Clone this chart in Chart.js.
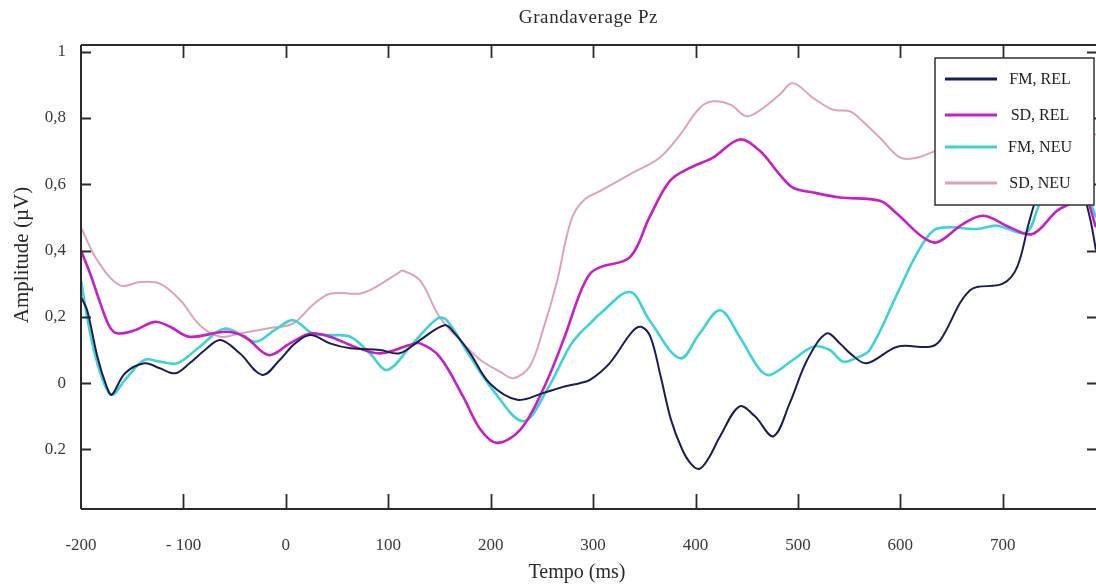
<!DOCTYPE html>
<html>
<head>
<meta charset="utf-8">
<script src="https://cdn.jsdelivr.net/npm/chart.js@4.4.1/dist/chart.umd.min.js"></script>
<style>
  html, body { margin: 0; padding: 0; background: #ffffff; }
  #wrap { position: relative; width: 1096px; height: 585px; }
</style>
</head>
<body>
<div id="wrap"><canvas id="c"></canvas></div>
<script>
// ---------- DATA ----------
const chartTitle = 'Grandaverage Pz';
const xTitle = 'Tempo (ms)';
const yTitle = 'Amplitude (\u00b5V)';

const xTickValues = [-200, -100, 0, 100, 200, 300, 400, 500, 600, 700];
const xTickLabels = ['-200', '- 100', '0', '100', '200', '300', '400', '500', '600', '700'];
const yTickValues = [-0.2, 0, 0.2, 0.4, 0.6, 0.8, 1];
const yTickLabels = ['0.2', '0', '0,2', '0,4', '0,6', '0,8', '1'];

const seriesNames = ['FM, REL', 'SD, REL', 'FM, NEU', 'SD, NEU'];

// FM, REL
const fmRelTime = [-200, -194, -184, -175, -170, -157, -138, -123, -108, -94, -79, -64, -45, -23, -6, 9, 24, 43, 63, 92, 111, 131, 155, 165, 180, 199, 226, 251, 272, 287, 297, 316, 338, 347, 356, 366, 376, 387, 396, 404, 413, 424, 443, 458, 476, 492, 509, 528, 541, 551, 567, 597, 629, 639, 668, 700, 714, 726, 736, 751, 765, 777, 785, 791];
const fmRelVal  = [0.26, 0.22, 0.08, -0.01, -0.035, 0.03, 0.06, 0.045, 0.03, 0.06, 0.10, 0.13, 0.09, 0.025, 0.07, 0.12, 0.145, 0.12, 0.105, 0.10, 0.09, 0.13, 0.175, 0.15, 0.09, 0.0, -0.05, -0.03, -0.01, 0.0, 0.01, 0.06, 0.155, 0.17, 0.14, 0.02, -0.11, -0.20, -0.245, -0.258, -0.225, -0.16, -0.07, -0.10, -0.16, -0.06, 0.07, 0.15, 0.12, 0.09, 0.06, 0.11, 0.11, 0.13, 0.28, 0.30, 0.35, 0.49, 0.58, 0.63, 0.62, 0.58, 0.50, 0.40];

// SD, REL
const sdRelTime = [-200, -191, -181, -172, -164, -147, -128, -113, -94, -59, -40, -17, 4, 24, 43, 67, 92, 121, 131, 150, 173, 190, 206, 229, 251, 271, 287, 297, 307, 336, 355, 375, 395, 417, 443, 463, 482, 495, 515, 541, 580, 597, 622, 636, 661, 681, 707, 729, 753, 765, 780, 791];
const sdRelVal  = [0.40, 0.33, 0.24, 0.17, 0.15, 0.16, 0.185, 0.17, 0.14, 0.155, 0.14, 0.085, 0.12, 0.15, 0.14, 0.11, 0.09, 0.115, 0.12, 0.08, -0.04, -0.14, -0.18, -0.14, -0.02, 0.13, 0.27, 0.33, 0.35, 0.38, 0.50, 0.61, 0.65, 0.68, 0.735, 0.70, 0.63, 0.59, 0.575, 0.56, 0.55, 0.51, 0.44, 0.425, 0.48, 0.505, 0.47, 0.45, 0.52, 0.54, 0.56, 0.47];

// FM, NEU
const fmNeuTime = [-200, -191, -181, -170, -157, -138, -123, -106, -84, -59, -30, -11, 7, 26, 43, 63, 82, 99, 124, 148, 157, 180, 202, 232, 255, 277, 287, 297, 307, 336, 355, 385, 404, 424, 443, 463, 473, 495, 515, 531, 544, 556, 570, 597, 616, 632, 648, 675, 694, 723, 736, 751, 770, 783, 791];
const fmNeuVal  = [0.31, 0.15, 0.03, -0.035, 0.01, 0.07, 0.065, 0.06, 0.11, 0.165, 0.125, 0.16, 0.19, 0.15, 0.145, 0.14, 0.09, 0.04, 0.12, 0.195, 0.19, 0.08, -0.02, -0.115, -0.02, 0.11, 0.15, 0.18, 0.21, 0.275, 0.19, 0.075, 0.15, 0.22, 0.14, 0.04, 0.025, 0.07, 0.11, 0.10, 0.065, 0.075, 0.10, 0.27, 0.39, 0.46, 0.47, 0.465, 0.475, 0.455, 0.54, 0.60, 0.60, 0.56, 0.50];

// SD, NEU
const sdNeuTime = [-200, -184, -162, -142, -123, -103, -84, -64, -45, -18, 7, 26, 43, 72, 85, 111, 114, 131, 150, 173, 190, 209, 222, 238, 251, 265, 274, 281, 292, 307, 336, 365, 385, 404, 417, 434, 450, 466, 482, 495, 515, 534, 551, 563, 580, 600, 616, 634, 660, 700, 750, 791];
const sdNeuVal  = [0.47, 0.37, 0.295, 0.305, 0.30, 0.25, 0.175, 0.14, 0.15, 0.165, 0.18, 0.235, 0.27, 0.27, 0.285, 0.335, 0.34, 0.31, 0.20, 0.12, 0.07, 0.035, 0.015, 0.05, 0.16, 0.31, 0.44, 0.51, 0.555, 0.58, 0.63, 0.68, 0.75, 0.83, 0.85, 0.84, 0.805, 0.83, 0.87, 0.905, 0.86, 0.825, 0.82, 0.79, 0.74, 0.68, 0.68, 0.70, 0.72, 0.74, 0.76, 0.75];

const seriesColors = ['#1b1e55', '#c61fc6', '#3fd3d6', '#dea3ba'];
const seriesWidths = [2, 2.6, 2.6, 2];

// ---------- BUILD ----------
function pts(t, v) { return t.map((x, i) => ({ x: x, y: v[i] })); }
const allSeries = [
  pts(fmRelTime, fmRelVal),
  pts(sdRelTime, sdRelVal),
  pts(fmNeuTime, fmNeuVal),
  pts(sdNeuTime, sdNeuVal)
];

const SERIF = "'Liberation Serif', 'DejaVu Serif', serif";
const AXIS_COLOR = '#2b2b2b';

const decorPlugin = {
  id: 'decor',
  afterDraw(chart) {
    const ctx = chart.ctx;
    const a = chart.chartArea;
    const xs = chart.scales.x, ys = chart.scales.y;
    ctx.save();
    // frame
    ctx.strokeStyle = AXIS_COLOR;
    ctx.lineWidth = 2;
    ctx.beginPath();
    ctx.moveTo(a.left, a.top); ctx.lineTo(a.right, a.top);
    ctx.moveTo(a.left, a.top); ctx.lineTo(a.left, a.bottom);
    ctx.moveTo(a.left, a.bottom); ctx.lineTo(a.right, a.bottom);
    ctx.stroke();
    // inward ticks
    ctx.lineWidth = 1.8;
    ctx.beginPath();
    xTickValues.forEach(v => {
      if (v === xTickValues[0]) return;
      const px = Math.round(xs.getPixelForValue(v)) + 0.5;
      ctx.moveTo(px, a.bottom); ctx.lineTo(px, a.bottom - 15);
      ctx.moveTo(px, a.top); ctx.lineTo(px, a.top + 13);
    });
    yTickValues.forEach(v => {
      const py = Math.round(ys.getPixelForValue(v)) + 0.5;
      ctx.moveTo(a.left, py); ctx.lineTo(a.left + 10, py);
      ctx.moveTo(a.right, py); ctx.lineTo(a.right - 9, py);
    });
    ctx.stroke();

    // titles
    ctx.fillStyle = '#2a2a2a';
    ctx.textAlign = 'center';
    ctx.textBaseline = 'middle';
    ctx.font = '19px ' + SERIF;
    try { ctx.letterSpacing = '0.6px'; } catch (e) {}
    ctx.fillText(chartTitle, (a.left + a.right) / 2, 18);
    try { ctx.letterSpacing = '0px'; } catch (e) {}
    ctx.font = '20px ' + SERIF;
    ctx.fillText(xTitle, 577, 573);
    ctx.save();
    ctx.translate(22, 255);
    ctx.rotate(-Math.PI / 2);
    ctx.font = '21px ' + SERIF;
    ctx.fillText(yTitle, 0, 0);
    ctx.restore();

    // legend box (inside plot)
    const L = 935, T = 58, R = 1094, B = 205;
    ctx.fillStyle = '#ffffff';
    ctx.fillRect(L, T, R - L, B - T);
    ctx.strokeStyle = '#333333';
    ctx.lineWidth = 1.5;
    ctx.strokeRect(L, T, R - L, B - T);
    const rowY = [79, 115, 147, 183];
    seriesNames.forEach((name, i) => {
      ctx.strokeStyle = seriesColors[i];
      ctx.lineWidth = 3;
      ctx.beginPath();
      ctx.moveTo(945, rowY[i]); ctx.lineTo(997, rowY[i]);
      ctx.stroke();
      ctx.fillStyle = '#1e1e1e';
      ctx.font = '16px ' + SERIF;
      ctx.textAlign = 'center';
      ctx.fillText(name, 1040, rowY[i] + 1);
    });
    ctx.restore();
  }
};

new Chart(document.getElementById('c'), {
  type: 'line',
  data: {
    datasets: allSeries.map((d, i) => ({
      label: seriesNames[i],
      data: d,
      borderColor: seriesColors[i],
      borderWidth: seriesWidths[i],
      pointRadius: 0,
      tension: 0.35,
      fill: false
    }))
  },
  options: {
    responsive: true,
    maintainAspectRatio: false,
    animation: false,
    layout: { padding: { top: 45, right: 0, bottom: 0, left: 0 } },
    plugins: { legend: { display: false }, title: { display: false }, tooltip: { enabled: false } },
    scales: {
      x: {
        type: 'linear',
        min: -200,
        max: 791,
        afterFit(s) { s.height = 76; },
        afterBuildTicks(s) { s.ticks = xTickValues.map(v => ({ value: v })); },
        grid: { display: false, drawTicks: false },
        border: { display: false },
        ticks: {
          padding: 26,
          color: '#3a3a3a',
          font: { family: SERIF, size: 17 },
          maxRotation: 0,
          autoSkip: false,
          callback(v) { const i = xTickValues.indexOf(v); return i >= 0 ? xTickLabels[i] : ''; }
        }
      },
      y: {
        type: 'linear',
        min: -0.3795,
        max: 1.02,
        afterFit(s) { s.width = 81; },
        afterBuildTicks(s) { s.ticks = yTickValues.map(v => ({ value: v })); },
        grid: { display: false, drawTicks: false },
        border: { display: false },
        ticks: {
          padding: 15,
          color: '#3a3a3a',
          font: { family: SERIF, size: 17 },
          autoSkip: false,
          callback(v) {
            const i = yTickValues.findIndex(t => Math.abs(t - v) < 1e-9);
            return i >= 0 ? yTickLabels[i] : '';
          }
        }
      }
    }
  },
  plugins: [decorPlugin]
});
</script>
</body>
</html>
